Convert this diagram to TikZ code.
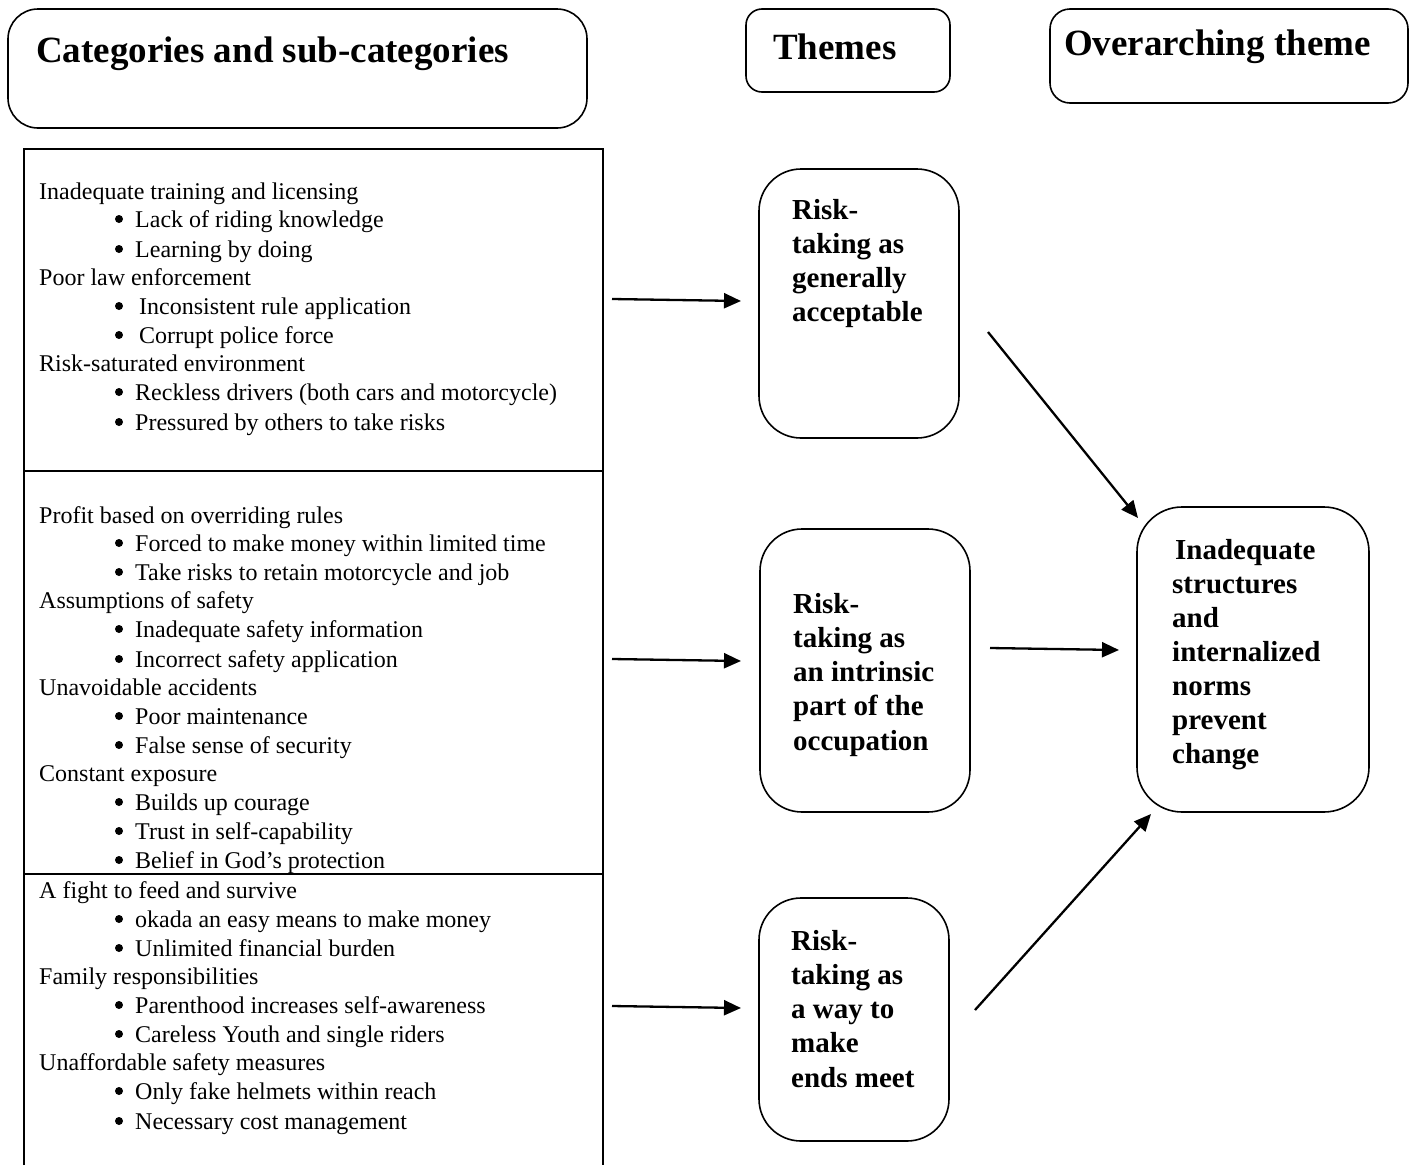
\documentclass[tikz,border=0pt]{standalone}
\usepackage{fontspec}
\setmainfont{Liberation Serif}
\usetikzlibrary{arrows.meta}
\tikzset{
  hd/.style={anchor=base west, inner sep=0pt, font=\fontsize{24}{29}\selectfont},
  bul/.style={circle, fill, inner sep=0pt, minimum size=8pt},
  th/.style={anchor=base west, inner sep=0pt, font=\bfseries\fontsize{29}{34}\selectfont},
  big/.style={anchor=base west, inner sep=0pt, font=\bfseries\fontsize{37}{44}\selectfont},
  rbox/.style={draw, line width=1.6pt, inner sep=0pt},
  frame/.style={line width=2pt},
  conn/.style={line width=2.3pt, -{Triangle[length=17pt,width=15pt]}}
}
\newcommand{\bitem}[4]{%
  \node[bul] (#1b) at (119,#2-8) {};
  \node[hd] (#1) at (#3,#2) {#4};}
\begin{document}
\begin{tikzpicture}[x=1pt,y=-1pt]
\useasboundingbox (0,0) rectangle (1414,1165);
% header boxes
\node[rbox, rounded corners=30pt, minimum width=579pt, minimum height=119pt] (hcat) at (297.5,68.5) {};
\node[rbox, rounded corners=16pt, minimum width=204pt, minimum height=83pt] (hthm) at (848,50.5) {};
\node[rbox, rounded corners=20pt, minimum width=358pt, minimum height=94pt] (hover) at (1229,56) {};
\node[big] (tcat) at (36,62) {Categories and sub-categories};
\node[big] (tthm) at (773,59) {Themes};
\node[big] (tover) at (1064,55) {Overarching theme};
% left frame
\draw[frame] (24,1165) -- (24,149) -- (603,149) -- (603,1165);
\draw[frame] (24,471) -- (603,471);
\draw[frame] (24,874) -- (603,874);
% block 1
\node[hd] (c1) at (39,199) {Inadequate training and licensing};
\bitem{c1a}{227}{135}{Lack of riding knowledge}
\bitem{c1b}{257}{135}{Learning by doing}
\node[hd] (c2) at (39,285) {Poor law enforcement};
\bitem{c2a}{314}{139}{Inconsistent rule application}
\bitem{c2b}{343}{139}{Corrupt police force}
\node[hd] (c3) at (39,371) {Risk-saturated environment};
\bitem{c3a}{400}{135}{Reckless drivers (both cars and motorcycle)}
\bitem{c3b}{430}{135}{Pressured by others to take risks}
% block 2
\node[hd] (d1) at (39,523) {Profit based on overriding rules};
\bitem{d1a}{551}{135}{Forced to make money within limited time}
\bitem{d1b}{580}{135}{Take risks to retain motorcycle and job}
\node[hd] (d2) at (39,608) {Assumptions of safety};
\bitem{d2a}{637}{135}{Inadequate safety information}
\bitem{d2b}{667}{135}{Incorrect safety application}
\node[hd] (d3) at (39,695) {Unavoidable accidents};
\bitem{d3a}{724}{135}{Poor maintenance}
\bitem{d3b}{753}{135}{False sense of security}
\node[hd] (d4) at (39,781) {Constant exposure};
\bitem{d4a}{810}{135}{Builds up courage}
\bitem{d4b}{839}{135}{Trust in self-capability}
\bitem{d4c}{868}{135}{Belief in God’s protection}
% block 3
\node[hd] (e1) at (39,898) {A fight to feed and survive};
\bitem{e1a}{927}{135}{okada an easy means to make money}
\bitem{e1b}{956}{135}{Unlimited financial burden}
\node[hd] (e2) at (39,984) {Family responsibilities};
\bitem{e2a}{1013}{135}{Parenthood increases self-awareness}
\bitem{e2b}{1042}{135}{Careless Youth and single riders}
\node[hd] (e3) at (39,1070) {Unaffordable safety measures};
\bitem{e3a}{1099}{135}{Only fake helmets within reach}
\bitem{e3b}{1129}{135}{Necessary cost management}
% theme boxes
\node[rbox, rounded corners=42pt, minimum width=200pt, minimum height=269pt] (th1) at (859,303.5) {};
\node[rbox, rounded corners=42pt, minimum width=210pt, minimum height=283pt] (th2) at (865,670.5) {};
\node[rbox, rounded corners=42pt, minimum width=190pt, minimum height=243pt] (th3) at (854,1019.5) {};
\node[rbox, rounded corners=45pt, minimum width=232pt, minimum height=305pt] (ov) at (1253,659.5) {};
\node[th] (t1a) at (792,219) {Risk-};
\node[th] (t1b) at (792,253) {taking as};
\node[th] (t1c) at (792,287) {generally};
\node[th] (t1d) at (792,321) {acceptable};
\node[th] (t2a) at (793,613) {Risk-};
\node[th] (t2b) at (793,647) {taking as};
\node[th] (t2c) at (793,681) {an intrinsic};
\node[th] (t2d) at (793,715) {part of the};
\node[th] (t2e) at (793,750) {occupation};
\node[th] (t3a) at (791,950) {Risk-};
\node[th] (t3b) at (791,984) {taking as};
\node[th] (t3c) at (791,1018) {a way to};
\node[th] (t3d) at (791,1052) {make};
\node[th] (t3e) at (791,1087) {ends meet};
\node[th] (o1) at (1175,559) {Inadequate};
\node[th] (o2) at (1172,593) {structures};
\node[th] (o3) at (1172,627) {and};
\node[th] (o4) at (1172,661) {internalized};
\node[th] (o5) at (1172,695) {norms};
\node[th] (o6) at (1172,729) {prevent};
\node[th] (o7) at (1172,763) {change};
% connectors
\coordinate (a1s) at (612,299); \coordinate (a1e) at (741,301);
\coordinate (a2s) at (612,659); \coordinate (a2e) at (741,661);
\coordinate (a3s) at (612,1006); \coordinate (a3e) at (741,1008);
\coordinate (b1s) at (988,332); \coordinate (b1e) at (1138,518);
\coordinate (b2s) at (990,648); \coordinate (b2e) at (1119,650);
\coordinate (b3s) at (975,1010); \coordinate (b3e) at (1151,814);
\draw[conn] (a1s) -- (a1e);
\draw[conn] (a2s) -- (a2e);
\draw[conn] (a3s) -- (a3e);
\draw[conn] (b1s) -- (b1e);
\draw[conn] (b2s) -- (b2e);
\draw[conn] (b3s) -- (b3e);
\end{tikzpicture}
\end{document}
